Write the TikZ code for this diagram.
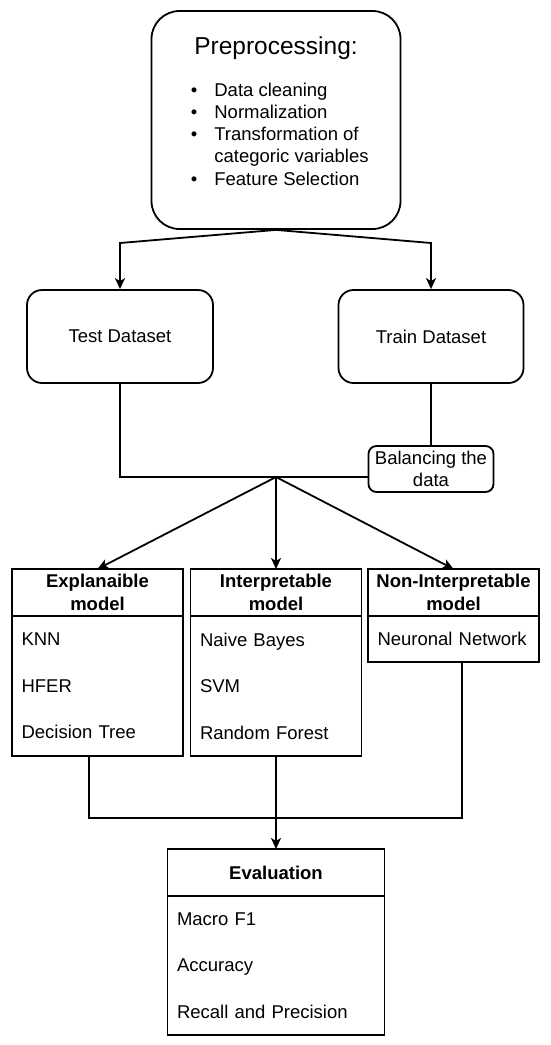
\documentclass[tikz,border=0pt]{standalone}
\usepackage{fontspec}
\setmainfont{Liberation Sans}
\usetikzlibrary{arrows.meta,positioning}

\begin{document}
\begin{tikzpicture}[x=1pt, y=-1pt, line width=1.8pt,
        every node/.style={font=\fontsize{18.5}{22}\selectfont},
        roundbox/.style={draw, rounded corners=#1, inner sep=0pt, align=center},
        lanehead/.style={draw, minimum width=#1, minimum height=47pt, inner sep=0pt, outer sep=0pt,
                         align=center, font=\fontsize{18.5}{23}\selectfont\bfseries},
        lanebody/.style={draw, inner xsep=9.5pt, inner ysep=0pt, outer sep=0pt, align=left,
                         font=\fontsize{18.5}{46.5}\selectfont},
        flow/.style={-{Stealth[length=11pt,width=10pt,inset=3pt]}}]
        \useasboundingbox (0,0) rectangle (550,1045);

        \node[roundbox=28pt, minimum width=249pt, minimum height=218pt] (prep) at (276,120) {};
        \node[anchor=base, font=\fontsize{24.5}{28}\selectfont] (preptitle) at (276,54) {Preprocessing:};
        \node[anchor=base west, inner sep=0pt, font=\fontsize{18.5}{22.3}\selectfont] (preplist) at (190,96)
            {\begin{tabular}[t]{@{}l@{\hspace{17pt}}l@{}}
             \textbullet & Data cleaning\\
             \textbullet & Normalization\\
             \textbullet & Transformation of\\
                         & categoric variables\\
             \textbullet & Feature Selection
             \end{tabular}};

        \node[roundbox=15pt, minimum width=186pt, minimum height=93pt] (test)  at (120,336.5) {Test Dataset};
        \node[roundbox=15pt, minimum width=185pt, minimum height=93pt] (train) at (431,336.5) {Train Dataset};
        \node[roundbox=8pt,  minimum width=125pt, minimum height=46pt] (bal)   at (431,469)   {Balancing the\\data};

        \node[lanehead=171pt] (explhead)   at (97.5,592.5) {Explanaible\\model};
        \node[lanehead=171pt] (interphead) at (276, 592.5) {Interpretable\\model};
        \node[lanehead=171pt] (noninthead) at (453.5,592.5) {Non-Interpretable\\model};
        \node[lanebody, text width=152pt, minimum height=140pt, below=0pt of explhead]   (explbody)   {KNN\\HFER\\Decision Tree};
        \node[lanebody, text width=152pt, minimum height=140pt, below=0pt of interphead] (interpbody) {Naive Bayes\\SVM\\Random Forest};
        \node[lanebody, text width=152pt, minimum height=46pt,  below=0pt of noninthead] (nonintbody) {Neuronal Network};

        \node[lanehead=217pt] (evalhead) at (276,872.5) {Evaluation};
        \node[lanebody, text width=198pt, minimum height=139pt, below=0pt of evalhead] (evalbody) {Macro F1\\Accuracy\\Recall and Precision};

        \coordinate (fork)  at (276,243);
        \coordinate (split) at (276,477);
        \coordinate (merge) at (276,818);

        \draw[flow] (prep.south) -- (fork -| test.north)  -- (test.north);
        \draw[flow] (prep.south) -- (fork -| train.north) -- (train.north);
        \draw (test.south) |- (split) -- (split -| bal.west);
        \draw (train.south) -- (bal.north);
        \draw[flow] (split) -- (explhead.north);
        \draw[flow] (split) -- (interphead.north);
        \draw[flow] (split) -- (noninthead.north);
        \draw ([xshift=-8.5pt]explbody.south) |- (merge);
        \draw ([xshift=8.5pt]nonintbody.south) |- (merge);
        \draw[flow] (interpbody.south) -- (evalhead.north);
    \end{tikzpicture}
\end{document}
